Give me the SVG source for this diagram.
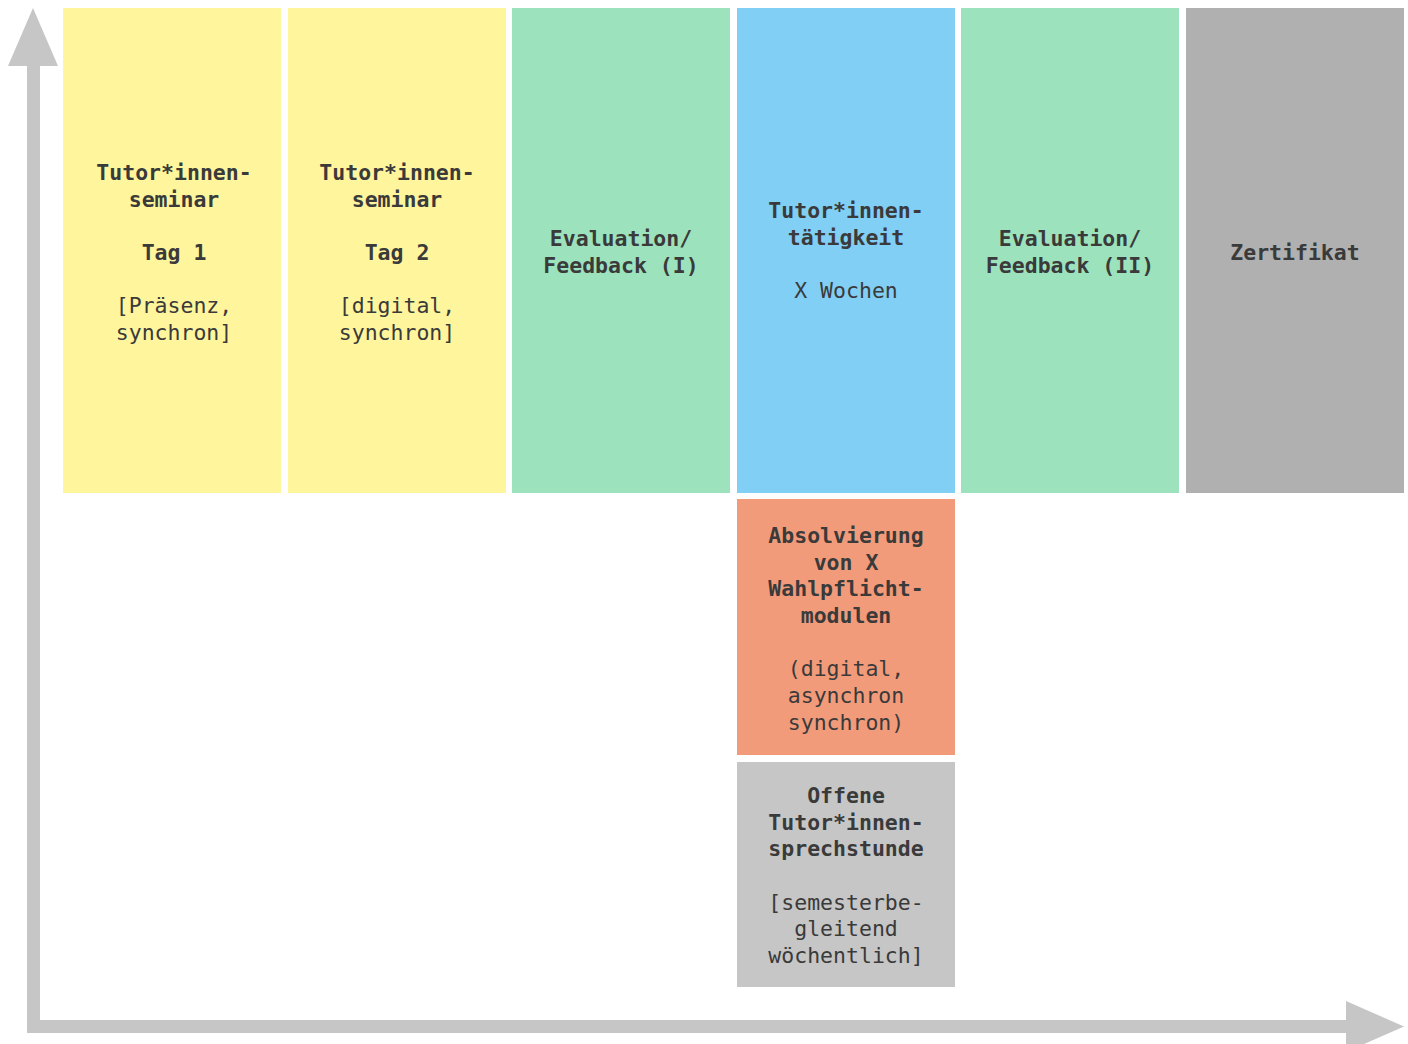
<svg xmlns="http://www.w3.org/2000/svg" width="1408" height="1044" viewBox="0 0 1408 1044">
<style>
.t{font-family:"DejaVu Sans Mono","Liberation Mono",monospace;font-size:21.5px;fill:#3a3a3a;text-anchor:middle}
.b{font-weight:bold}
.ax{fill:#c6c6c6}
</style>
<rect width="1408" height="1044" fill="#ffffff"/>
<g id="axes">
<rect class="ax" x="27" y="60" width="13" height="973"/>
<polygon class="ax" points="33,8 58,66 8,66"/>
<rect class="ax" x="27" y="1020" width="1325" height="13"/>
<polygon class="ax" points="1404,1026.5 1346,1001 1346,1052"/>
</g>
<g id="n1">
<rect x="63" y="8" width="218" height="485" fill="#fff59d"/>
<text class="t b" x="174" y="180">Tutor*innen-</text>
<text class="t b" x="174" y="207">seminar</text>
<text class="t b" x="174" y="260">Tag 1</text>
<text class="t" x="174" y="313">[Präsenz,</text>
<text class="t" x="174" y="340">synchron]</text>
</g>
<g id="n2">
<rect x="288" y="8" width="218" height="485" fill="#fff59d"/>
<text class="t b" x="397" y="180">Tutor*innen-</text>
<text class="t b" x="397" y="207">seminar</text>
<text class="t b" x="397" y="260">Tag 2</text>
<text class="t" x="397" y="313">[digital,</text>
<text class="t" x="397" y="340">synchron]</text>
</g>
<g id="n3">
<rect x="512" y="8" width="218" height="485" fill="#9ce3bd"/>
<text class="t b" x="621" y="246">Evaluation/</text>
<text class="t b" x="621" y="273">Feedback (I)</text>
</g>
<g id="n4">
<rect x="737" y="8" width="218" height="485" fill="#81cff4"/>
<text class="t b" x="846" y="218">Tutor*innen-</text>
<text class="t b" x="846" y="245">tätigkeit</text>
<text class="t" x="846" y="298">X Wochen</text>
</g>
<g id="n5">
<rect x="961" y="8" width="218" height="485" fill="#9ce3bd"/>
<text class="t b" x="1070" y="246">Evaluation/</text>
<text class="t b" x="1070" y="273">Feedback (II)</text>
</g>
<g id="n6">
<rect x="1186" y="8" width="218" height="485" fill="#b0b0b0"/>
<text class="t b" x="1295" y="260">Zertifikat</text>
</g>
<g id="n7">
<rect x="737" y="499" width="218" height="256" fill="#f29b7b"/>
<text class="t b" x="846" y="543">Absolvierung</text>
<text class="t b" x="846" y="570">von X</text>
<text class="t b" x="846" y="596">Wahlpflicht-</text>
<text class="t b" x="846" y="623">modulen</text>
<text class="t" x="846" y="676">(digital,</text>
<text class="t" x="846" y="703">asynchron</text>
<text class="t" x="846" y="730">synchron)</text>
</g>
<g id="n8">
<rect x="737" y="762" width="218" height="225" fill="#c6c6c6"/>
<text class="t b" x="846" y="803">Offene</text>
<text class="t b" x="846" y="830">Tutor*innen-</text>
<text class="t b" x="846" y="856">sprechstunde</text>
<text class="t" x="846" y="910">[semesterbe-</text>
<text class="t" x="846" y="936">gleitend</text>
<text class="t" x="846" y="963">wöchentlich]</text>
</g>
</svg>
